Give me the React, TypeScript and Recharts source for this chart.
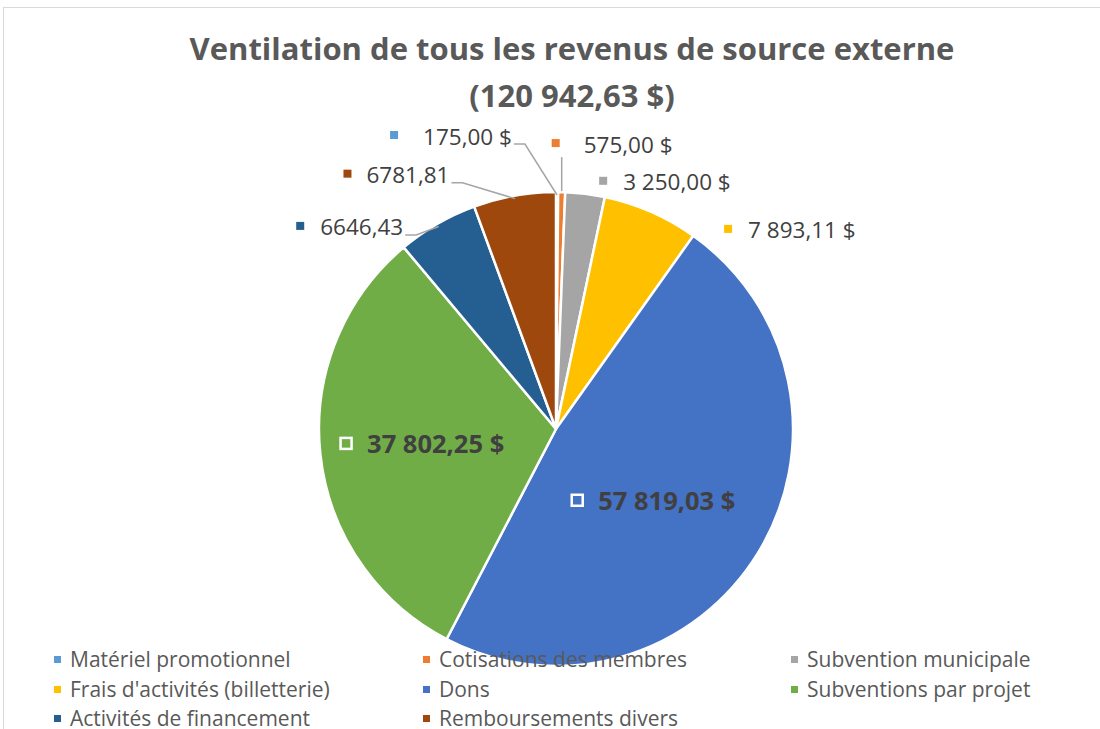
import React from "react";
import { PieChart, Pie, Cell } from "recharts";

const categories = [
  "Matériel promotionnel",
  "Cotisations des membres",
  "Subvention municipale",
  "Frais d'activités (billetterie)",
  "Dons",
  "Subventions par projet",
  "Activités de financement",
  "Remboursements divers",
];
const values = [175, 575, 3250, 7893.11, 57819.03, 37802.25, 6646.43, 6781.81];
const valueLabels = ["175,00 $", "575,00 $", "3 250,00 $", "7 893,11 $", "57 819,03 $", "37 802,25 $", "6646,43", "6781,81"];
const colors = ["#5B9BD5", "#ED7D31", "#A5A5A5", "#FFC000", "#4472C4", "#70AD47", "#255E91", "#9E480E"];
const titleLines = ["Ventilation de tous les revenus de source externe", "(120 942,63 $)"];

const data = categories.map((name, i) => ({ name, value: values[i] }));

// label placement (relative to the slice edge, or to a point inside the slice)
const labelLayout: any[] = [
  { out: true, dx: -134, dy: -56, gap: 29, leader: "left" },
  { out: true, dx: 22, dy: -48, gap: 28, leader: "up" },
  { out: true, dx: 38, dy: -12, gap: 20 },
  { out: true, dx: 97, dy: 18, gap: 20 },
  { out: false, r: 0.56, dx: -71, dy: 2, gap: 21 },
  { out: false, r: 0.56, dx: -57, dy: 0, gap: 21 },
  { out: true, dx: -117, dy: 3, gap: 20, leader: "left" },
  { out: true, dx: -148, dy: -21, gap: 19, leader: "left" },
];

const FONT = "'Open Sans', sans-serif";
const LABEL_SIZE = 22.5;
const RAD = Math.PI / 180;

let ctx: CanvasRenderingContext2D | null = null;
function textWidth(s: string, font: string) {
  if (!ctx) ctx = document.createElement("canvas").getContext("2d");
  if (!ctx) return s.length * 11;
  ctx.font = font;
  return ctx.measureText(s).width;
}

function renderLabel(p: any) {
  const { cx, cy, midAngle, outerRadius, index } = p;
  const L = labelLayout[index];
  const cos = Math.cos(-midAngle * RAD);
  const sin = Math.sin(-midAngle * RAD);
  const text = valueLabels[index];
  if (!L.out) {
    const ax = cx + outerRadius * L.r * cos;
    const ay = cy + outerRadius * L.r * sin;
    const tx = ax + L.dx;
    const ty = ay + L.dy;
    return (
      <g key={index}>
        <rect x={tx - L.gap - 5.5} y={ty - 5.5} width={11} height={11} fill="none" stroke="#fff" strokeWidth={2.5} />
        <text x={tx} y={ty} dominantBaseline="central" fontFamily={FONT} fontWeight={700} fontSize={25.5} fill="#404040">
          {text}
        </text>
      </g>
    );
  }
  const ex = cx + outerRadius * cos;
  const ey = cy + outerRadius * sin;
  const tx = ex + L.dx;
  const ty = ey + L.dy;
  let leader = null;
  if (L.leader === "left") {
    const w = textWidth(text, `${LABEL_SIZE}px ${FONT}`);
    const lx = tx + w + 2;
    const ly = ty + 8;
    const px = cx + (outerRadius - 3) * cos;
    const py = cy + (outerRadius - 3) * sin;
    leader = <polyline points={`${lx},${ly} ${lx + 11},${ly} ${px},${py}`} fill="none" stroke="#A6A6A6" strokeWidth={1.5} />;
  } else if (L.leader === "up") {
    leader = <line x1={ex} y1={ey - 1} x2={ex} y2={ty + 13} stroke="#A6A6A6" strokeWidth={1.5} />;
  }
  return (
    <g key={index}>
      {leader}
      <rect x={tx - L.gap - 4} y={ty - 5} width={8} height={8} fill={colors[index]} />
      <text x={tx} y={ty} dominantBaseline="central" fontFamily={FONT} fontSize={LABEL_SIZE} fill="#404040">
        {text}
      </text>
    </g>
  );
}

const legendCols = [54, 423, 791];
const legendRows = [659, 689, 718];

export default function App() {
  return (
    <div style={{ position: "fixed", left: 0, top: 0, width: 1100, height: 729, overflow: "hidden", background: "#fff" }}>
      <div style={{ position: "absolute", left: 3, top: 7, width: 1200, height: 800, border: "1.5px solid #D9D9D9" }} />
      <div style={{ position: "absolute", left: 0, top: 0 }}>
        <PieChart width={1100} height={729}>
          <Pie
            data={data}
            dataKey="value"
            nameKey="name"
            cx={551}
            cy={424}
            outerRadius={237}
            startAngle={90}
            endAngle={-270}
            stroke="#fff"
            strokeWidth={2.5}
            label={renderLabel}
            labelLine={false}
            isAnimationActive={false}
          >
            {data.map((d, i) => (
              <Cell key={d.name} fill={colors[i]} />
            ))}
          </Pie>
        </PieChart>
      </div>
      {titleLines.map((t, i) => (
        <div
          key={i}
          style={{
            position: "absolute", left: 0, width: 1144, top: 26 + i * 47, textAlign: "center",
            fontFamily: FONT, fontWeight: 700, fontSize: 31, color: "#595959", lineHeight: "44px",
          }}
        >
          {t}
        </div>
      ))}
      {categories.map((c, i) => (
        <div
          key={c}
          style={{
            position: "absolute", left: legendCols[i % 3], top: legendRows[Math.floor(i / 3)] - 13,
            height: 26, display: "flex", alignItems: "center", fontFamily: FONT, fontSize: 21, color: "#595959", whiteSpace: "nowrap",
          }}
        >
          <span style={{ display: "inline-block", width: 7, height: 7, background: colors[i], marginRight: 9 }} />
          {c}
        </div>
      ))}
    </div>
  );
}
